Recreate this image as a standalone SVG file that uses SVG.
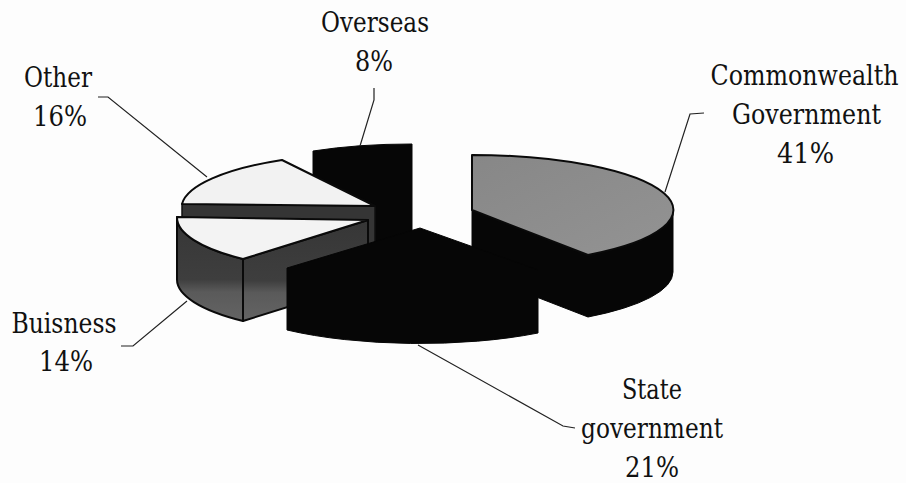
<svg xmlns="http://www.w3.org/2000/svg" width="906" height="483" viewBox="0 0 906 483">
  <defs>
    <style>
      .lbl { font-family: 'DejaVu Serif', serif; font-size: 27px; fill: #111; text-anchor: middle; }
      .blk { fill: #060606; stroke: #060606; stroke-width: 1; stroke-linejoin: round; }
      .edge { stroke: #0a0a0a; stroke-width: 2; stroke-linejoin: round; }
      .lead { fill: none; stroke: #222; stroke-width: 1.2; }
    </style>
    <linearGradient id="bizSide" x1="0" y1="0" x2="0" y2="1">
      <stop offset="0" stop-color="#363636"/>
      <stop offset="0.6" stop-color="#3e3e3e"/>
      <stop offset="0.72" stop-color="#5a5a5a"/>
      <stop offset="1" stop-color="#646464"/>
    </linearGradient>
    <linearGradient id="cwTop" x1="0" y1="0" x2="1" y2="1">
      <stop offset="0" stop-color="#878787"/>
      <stop offset="1" stop-color="#939393"/>
    </linearGradient>
  </defs>
  <rect width="906" height="483" fill="#fdfdfd"/>

  <g id="slice-overseas">
    <path class="blk" d="M313,151 A200,55 0 0 1 412,144 L412,261 L313,213 Z"/>
    <text class="lbl" x="375" y="32" textLength="108" lengthAdjust="spacingAndGlyphs">Overseas</text>
    <text class="lbl" x="374" y="71" textLength="38" lengthAdjust="spacingAndGlyphs">8%</text>
  </g>

  <g id="slice-commonwealth">
    <path class="blk" d="M472,210 L588,255 L588,317 L472,272 Z"/>
    <path class="blk" d="M588,255 A201,55 0 0 0 673,210 L673,272 A201,55 0 0 1 588,317 Z"/>
    <path class="edge" fill="url(#cwTop)" d="M472,210 L472,155 A201,55 0 0 1 588,255 Z"/>
    <text class="lbl" transform="translate(804.5 85) scale(0.88 1)" x="0" y="0">Commonwealth</text>
    <text class="lbl" x="806.5" y="124" textLength="149" lengthAdjust="spacingAndGlyphs">Government</text>
    <text class="lbl" x="805.5" y="163" textLength="57" lengthAdjust="spacingAndGlyphs">41%</text>
  </g>

  <g id="slice-other">
    <path fill="#353535" stroke="#111" stroke-width="1.5" d="M182,204 L375,206 L375,268 L182,266 Z"/>
    <path class="edge" fill="#f2f2f2" d="M375,206 L182,204 A195,55 0 0 1 282,160 Z"/>
    <text class="lbl" x="58" y="87" textLength="68" lengthAdjust="spacingAndGlyphs">Other</text>
    <text class="lbl" x="60" y="126" textLength="54" lengthAdjust="spacingAndGlyphs">16%</text>
  </g>

  <g id="slice-business">
    <path class="edge" fill="url(#bizSide)" d="M177,217 A192,55 0 0 0 243,259 L243,321 A192,55 0 0 1 177,279 Z"/>
    <path class="edge" fill="url(#bizSide)" d="M368,220 L243,259 L243,321 L368,282 Z"/>
    <path class="edge" fill="#f3f3f3" d="M368,220 L177,217 A192,55 0 0 0 243,259 Z"/>
    <text class="lbl" x="64" y="333" textLength="105" lengthAdjust="spacingAndGlyphs">Buisness</text>
    <text class="lbl" x="66" y="371" textLength="54" lengthAdjust="spacingAndGlyphs">14%</text>
  </g>

  <g id="slice-state">
    <path class="blk" d="M420,228 L538,270 L538,333 A205,57 0 0 1 287,330 L287,268 Z"/>
    <text class="lbl" x="652" y="399" textLength="60" lengthAdjust="spacingAndGlyphs">State</text>
    <text class="lbl" x="652" y="438" textLength="142" lengthAdjust="spacingAndGlyphs">government</text>
    <text class="lbl" x="652" y="477" textLength="54" lengthAdjust="spacingAndGlyphs">21%</text>
  </g>

  <g id="connectors">
    <path class="lead" d="M374,88 L374,100 L360,146"/>
    <path class="lead" d="M98,97 L108,97 L207,177"/>
    <path class="lead" d="M704,113 L690,114 L665,192"/>
    <path class="lead" d="M418,345 L563,426 L575,428"/>
    <path class="lead" d="M187,301 L133,346 L121,346"/>
  </g>
</svg>
